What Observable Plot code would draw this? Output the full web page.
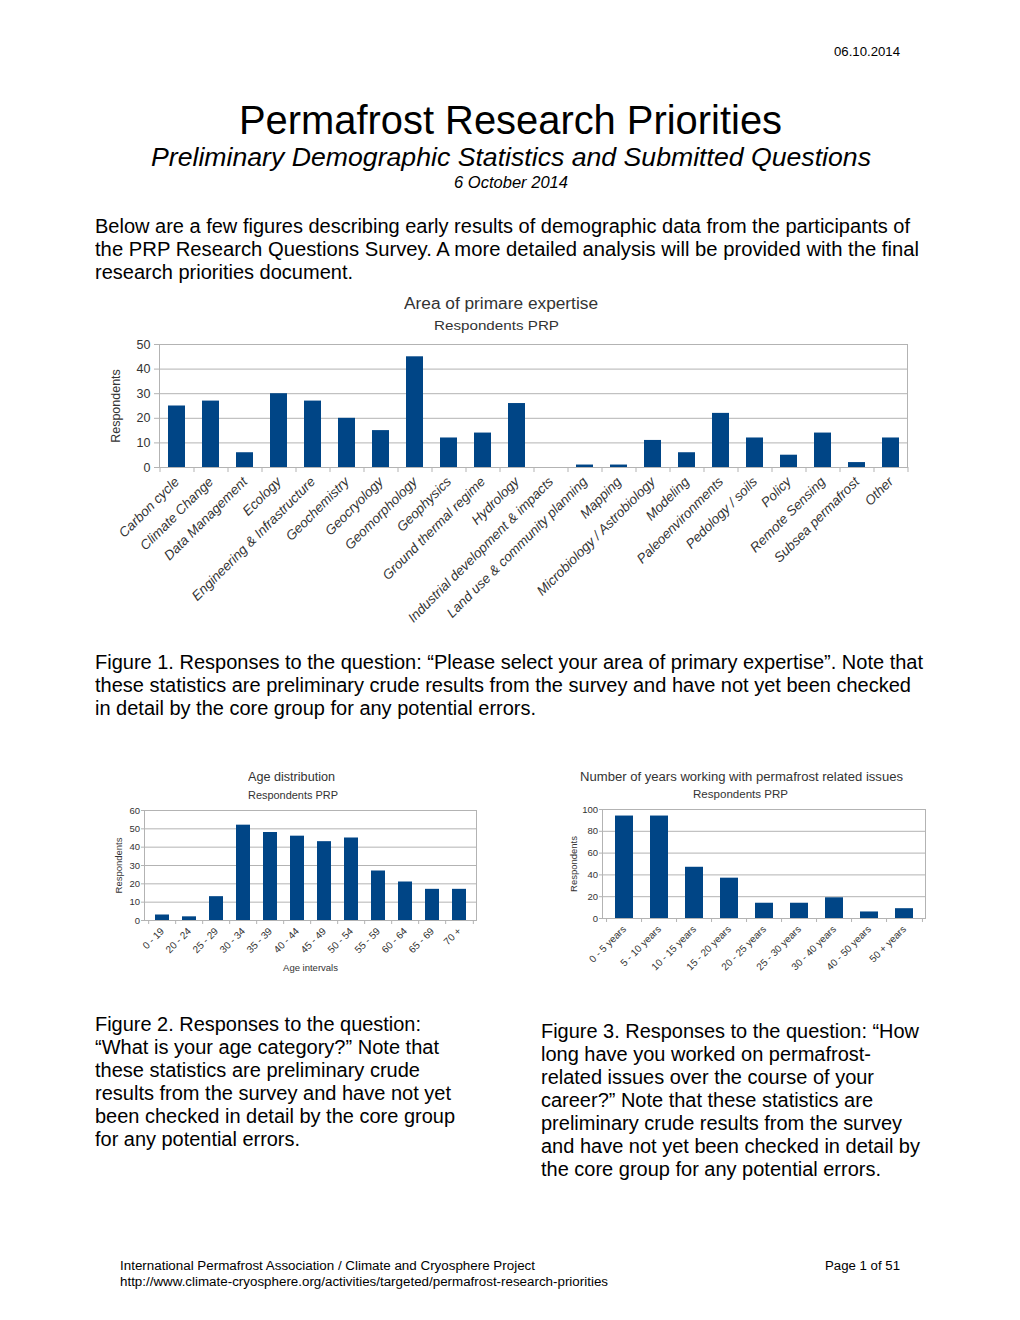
<!DOCTYPE html>
<html>
<head>
<meta charset="utf-8">
<script src="https://cdn.jsdelivr.net/npm/d3@7"></script>
<script src="https://cdn.jsdelivr.net/npm/@observablehq/plot@0.6"></script>
<style>
  body { margin: 0; background: #fff; font-family: "Liberation Sans", Arial, sans-serif; color: #000; }
  #page { position: relative; width: 1020px; height: 1320px; overflow: hidden; background: #fff; }
  .line { position: absolute; white-space: nowrap; line-height: 1; display: inline-block; transform-origin: 0 0; z-index: 2; }
  .chart { position: absolute; z-index: 1; }
  .chart svg { position: absolute; left: 0; top: 0; overflow: visible; }
</style>
</head>
<body>
<div id="page"></div>
<script>
// ---------- DATA ----------
const expertiseCategories = [
  "Carbon cycle", "Climate Change", "Data Management", "Ecology",
  "Engineering & Infrastructure", "Geochemistry", "Geocryology", "Geomorphology",
  "Geophysics", "Ground thermal regime", "Hydrology", "Industrial development & impacts",
  "Land use & community planning", "Mapping", "Microbiology / Astrobiology", "Modeling",
  "Paleoenvironments", "Pedology / soils", "Policy", "Remote Sensing",
  "Subsea permafrost", "Other"
];
const expertiseCounts = [25, 27, 6, 30, 27, 20, 15, 45, 12, 14, 26, 0, 1, 1, 11, 6, 22, 12, 5, 14, 2, 12];
const expertiseTicks = [0, 10, 20, 30, 40, 50];

const ageIntervals = ["0 - 19", "20 - 24", "25 - 29", "30 - 34", "35 - 39", "40 - 44",
  "45 - 49", "50 - 54", "55 - 59", "60 - 64", "65 - 69", "70 +"];
const ageCounts = [3, 2, 13, 52, 48, 46, 43, 45, 27, 21, 17, 17];
const ageTicks = [0, 10, 20, 30, 40, 50, 60];

const yearsIntervals = ["0 - 5 years", "5 - 10 years", "10 - 15 years", "15 - 20 years",
  "20 - 25 years", "25 - 30 years", "30 - 40 years", "40 - 50 years", "50 + years"];
const yearsCounts = [94, 94, 47, 37, 14, 14, 19, 6, 9];
const yearsTicks = [0, 20, 40, 60, 80, 100];

// ---------- PAGE TEXT ----------
const page = document.getElementById("page");
const textLines = [];
function addLine(text, x, baseline, size, w, opts = {}) {
  const el = document.createElement("div");
  el.className = "line";
  el.textContent = text;
  el.style.fontSize = size + "px";
  if (opts.italic) el.style.fontStyle = "italic";
  if (opts.color) el.style.color = opts.color;
  el.style.top = (baseline - 0.8465 * size) + "px";
  el.style.left = "0px";
  page.appendChild(el);
  textLines.push({el, x, w, align: opts.align || "left"});
}
function fitLines() {
  for (const {el, x, w, align} of textLines) {
    const nw = el.getBoundingClientRect().width;
    const s = w / nw;
    let left = x;
    if (align === "center") left = x - w / 2;
    if (align === "right") left = x - w;
    el.style.left = left + "px";
    el.style.transform = `scaleX(${s})`;
  }
}

addLine("06.10.2014", 900, 57, 12.5, 66, {align: "right"});
addLine("Permafrost Research Priorities", 510.5, 134, 40, 543, {align: "center"});
addLine("Preliminary Demographic Statistics and Submitted Questions", 511, 166, 25, 720, {align: "center", italic: true});
addLine("6 October 2014", 511, 188, 16.5, 114, {align: "center", italic: true});

addLine("Below are a few figures describing early results of demographic data from the participants of", 95, 233, 20, 815);
addLine("the PRP Research Questions Survey.  A more detailed analysis will be provided with the final", 95, 256, 20, 824);
addLine("research priorities document.", 95, 279, 20, 258);

addLine("Figure 1. Responses to the question: \u201cPlease select your area of primary expertise\u201d. Note that", 95, 669, 20, 828);
addLine("these statistics are preliminary crude results from the survey and have not yet been checked", 95, 692, 20, 816);
addLine("in detail by the core group for any potential errors.", 95, 715, 20, 441);

const fig2 = [
  ["Figure 2. Responses to the question:", 326],
  ["\u201cWhat is your age category?\u201d Note that", 344],
  ["these statistics are preliminary crude", 325],
  ["results from the survey and have not yet", 356],
  ["been checked in detail by the core group", 360],
  ["for any potential errors.", 205]
];
fig2.forEach(([t, w], i) => addLine(t, 95, 1031 + 23 * i, 20, w));

const fig3 = [
  ["Figure 3. Responses to the question: \u201cHow", 378],
  ["long have you worked on permafrost-", 330],
  ["related issues over the course of your", 333],
  ["career?\u201d Note that these statistics are", 332],
  ["preliminary crude results from the survey", 361],
  ["and have not yet been checked in detail by", 379],
  ["the core group for any potential errors.", 340]
];
fig3.forEach(([t, w], i) => addLine(t, 541, 1038 + 23 * i, 20, w));

addLine("International Permafrost Association / Climate and Cryosphere Project", 120, 1270.5, 12.5, 415);
addLine("http://www.climate-cryosphere.org/activities/targeted/permafrost-research-priorities", 120, 1286.5, 12.5, 488);
addLine("Page 1 of 51", 900, 1270.5, 12.5, 75, {align: "right"});

// chart titles
addLine("Area of primare expertise", 501, 310, 16, 194, {align: "center", color: "#333"});
addLine("Respondents PRP", 496.5, 330, 13.5, 125, {align: "center", color: "#333"});
addLine("Age distribution", 291.5, 781, 12, 87, {align: "center", color: "#333"});
addLine("Respondents PRP", 293, 798.5, 10.5, 90, {align: "center", color: "#333"});
addLine("Number of years working with permafrost related issues", 741.5, 782, 12.5, 323, {align: "center", color: "#333"});
addLine("Respondents PRP", 740.5, 798, 11, 95, {align: "center", color: "#333"});

// ---------- CHARTS ----------
function barChart(cfg) {
  const {cats, vals, ticks, left, top, width, height, ml, mr, mt, mb,
    fontSize, xFontSize, italic, tickPad, yTickSize, yTickPad, xTickSize, yLabelDx, yLabelSize, xTitle, xTitleDy} = cfg;
  const data = cats.map((c, i) => ({cat: c, value: vals[i]}));
  const bw = (width - ml - mr) / cats.length;
  const marks = [
    Plot.gridY(ticks, {stroke: "#b3b3b3", strokeOpacity: 1}),
    Plot.frame({stroke: "#b3b3b3"}),
    Plot.barY(data, {x: "cat", y: "value", fill: "#004586"}),
    Plot.axisY(ticks, {tickSize: yTickSize, tickPadding: yTickPad, fontSize, stroke: "#b3b3b3", fill: "#333", label: null}),
    Plot.axisX({ticks: cats, tickFormat: () => "", tickSize: xTickSize, dx: -bw / 2, stroke: "#b3b3b3", label: null}),
    Plot.axisX({ticks: [cats[cats.length - 1]], tickFormat: () => "", tickSize: xTickSize, dx: bw / 2, stroke: "#b3b3b3", label: null}),
    Plot.axisX({ticks: cats, tickSize: 0, tickPadding: tickPad, tickRotate: -45, fontSize: xFontSize,
      fontStyle: italic ? "italic" : "normal", fill: "#333", label: null}),
    Plot.text(["Respondents"], {frameAnchor: "left", dx: yLabelDx, rotate: -90, textAnchor: "middle",
      fontSize: yLabelSize, fill: "#333"})
  ];
  if (xTitle) marks.push(Plot.text([xTitle], {frameAnchor: "bottom", dy: xTitleDy, textAnchor: "middle",
    fontSize: yLabelSize, fill: "#333"}));
  const svg = Plot.plot({
    width, height, marginLeft: ml, marginRight: mr, marginTop: mt, marginBottom: mb,
    style: {background: "transparent", fontFamily: "Liberation Sans, Arial, sans-serif", color: "#333", overflow: "visible"},
    x: {domain: cats, paddingInner: 0.5, paddingOuter: 0.25, label: null},
    y: {domain: [ticks[0], ticks[ticks.length - 1]], label: null},
    marks
  });
  const div = document.createElement("div");
  div.className = "chart";
  div.style.left = left + "px";
  div.style.top = top + "px";
  div.style.width = width + "px";
  div.style.height = height + "px";
  div.appendChild(svg);
  page.appendChild(div);
}

barChart({cats: expertiseCategories, vals: expertiseCounts, ticks: expertiseTicks,
  left: 95, top: 285, width: 825, height: 345, ml: 64, mr: 13, mt: 59, mb: 163,
  fontSize: 12.5, xFontSize: 13.5, italic: true, tickPad: 12, yTickSize: 5, yTickPad: 4, xTickSize: 5,
  yLabelDx: -44, yLabelSize: 12.5});

barChart({cats: ageIntervals, vals: ageCounts, ticks: ageTicks,
  left: 95, top: 765, width: 395, height: 225, ml: 49, mr: 14, mt: 45, mb: 70,
  fontSize: 9.5, xFontSize: 10, italic: false, tickPad: 9, yTickSize: 3, yTickPad: 1.5, xTickSize: 4,
  yLabelDx: -26, yLabelSize: 9.5, xTitle: "Age intervals", xTitleDy: 50});

barChart({cats: yearsIntervals, vals: yearsCounts, ticks: yearsTicks,
  left: 540, top: 765, width: 400, height: 225, ml: 62, mr: 15, mt: 44, mb: 72,
  fontSize: 9.5, xFontSize: 10, italic: false, tickPad: 9, yTickSize: 3, yTickPad: 1.5, xTickSize: 4,
  yLabelDx: -29, yLabelSize: 9.5});

fitLines();
</script>
</body>
</html>
